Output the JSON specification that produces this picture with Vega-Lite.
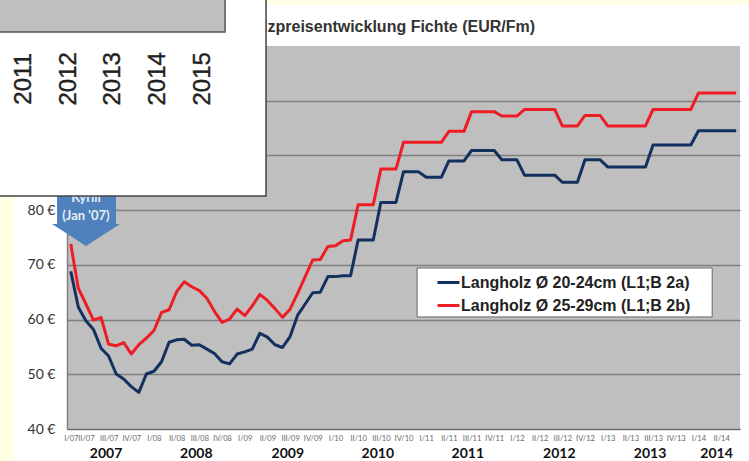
{"$schema":"https://vega.github.io/schema/vega-lite/v6.json","width":673,"height":383,"autosize":"none","padding":{"left":67,"top":46,"right":9,"bottom":32},"background":"#ffffff","view":{"fill":"#bfbfbf","stroke":null},
"datasets":{"prices":[
{"t":0,"a":68.8,"b":73.8},{"t":1,"a":62.25,"b":65.7},{"t":2,"a":59.8,"b":62.85},{"t":3,"a":58.2,"b":59.9},{"t":4,"a":54.75,"b":60.4},{"t":5,"a":53.35,"b":55.5},{"t":6,"a":50.05,"b":55.2},{"t":7,"a":49.15,"b":55.8},{"t":8,"a":47.75,"b":53.7},{"t":9,"a":46.7,"b":55.4},
{"t":10,"a":50.05,"b":56.6},{"t":11,"a":50.55,"b":58},{"t":12,"a":52.3,"b":61.3},{"t":13,"a":55.85,"b":61.8},{"t":14,"a":56.3,"b":65.1},{"t":15,"a":56.4,"b":66.9},{"t":16,"a":55.3,"b":66},{"t":17,"a":55.4,"b":65.3},{"t":18,"a":54.6,"b":63.9},{"t":19,"a":53.8,"b":61.5},
{"t":20,"a":52.3,"b":59.5},{"t":21,"a":51.9,"b":60.1},{"t":22,"a":53.7,"b":61.9},{"t":23,"a":54.1,"b":60.7},{"t":24,"a":54.6,"b":62.5},{"t":25,"a":57.5,"b":64.6},{"t":26,"a":56.8,"b":63.5},{"t":27,"a":55.4,"b":62},{"t":28,"a":54.9,"b":60.4},{"t":29,"a":56.9,"b":61.9},
{"t":30,"a":60.8,"b":64.8},{"t":31,"a":62.85,"b":67.85},{"t":32,"a":64.9,"b":70.9},{"t":33,"a":65,"b":71},{"t":34,"a":67.85,"b":73.35},{"t":35,"a":67.85,"b":73.5},{"t":36,"a":68,"b":74.4},{"t":37,"a":68,"b":74.55},{"t":38,"a":74.55,"b":81},{"t":39,"a":74.55,"b":81},
{"t":40,"a":74.55,"b":81},{"t":41,"a":81.4,"b":87.5},{"t":42,"a":81.4,"b":87.5},{"t":43,"a":81.4,"b":87.5},{"t":44,"a":87,"b":92.4},{"t":45,"a":87,"b":92.4},{"t":46,"a":87,"b":92.4},{"t":47,"a":86,"b":92.4},{"t":48,"a":86,"b":92.4},{"t":49,"a":86,"b":92.4},
{"t":50,"a":89,"b":94.4},{"t":51,"a":89,"b":94.4},{"t":52,"a":89,"b":94.4},{"t":53,"a":90.9,"b":98},{"t":54,"a":90.9,"b":98},{"t":55,"a":90.9,"b":98},{"t":56,"a":90.9,"b":98},{"t":57,"a":89.2,"b":97.2},{"t":58,"a":89.2,"b":97.2},{"t":59,"a":89.2,"b":97.2},
{"t":60,"a":86.4,"b":98.4},{"t":61,"a":86.4,"b":98.4},{"t":62,"a":86.4,"b":98.4},{"t":63,"a":86.4,"b":98.4},{"t":64,"a":86.4,"b":98.4},{"t":65,"a":85.1,"b":95.4},{"t":66,"a":85.1,"b":95.4},{"t":67,"a":85.1,"b":95.4},{"t":68,"a":89.2,"b":97.3},{"t":69,"a":89.2,"b":97.3},
{"t":70,"a":89.2,"b":97.3},{"t":71,"a":87.9,"b":95.4},{"t":72,"a":87.9,"b":95.4},{"t":73,"a":87.9,"b":95.4},{"t":74,"a":87.9,"b":95.4},{"t":75,"a":87.9,"b":95.4},{"t":76,"a":87.9,"b":95.4},{"t":77,"a":91.9,"b":98.4},{"t":78,"a":91.9,"b":98.4},{"t":79,"a":91.9,"b":98.4},
{"t":80,"a":91.9,"b":98.4},{"t":81,"a":91.9,"b":98.4},{"t":82,"a":91.9,"b":98.4},{"t":83,"a":94.5,"b":101.4},{"t":84,"a":94.5,"b":101.4},{"t":85,"a":94.5,"b":101.4},{"t":86,"a":94.5,"b":101.4},{"t":87,"a":94.5,"b":101.4},{"t":88,"a":94.5,"b":101.4}
],
"months":[{"t":-0.5},{"t":0.5},{"t":1.5},{"t":2.5},{"t":3.5},{"t":4.5},{"t":5.5},{"t":6.5},{"t":7.5},{"t":8.5},{"t":9.5},{"t":10.5},{"t":11.5},{"t":12.5},{"t":13.5},{"t":14.5},{"t":15.5},{"t":16.5},{"t":17.5},{"t":18.5},{"t":19.5},{"t":20.5},{"t":21.5},{"t":22.5},{"t":23.5},{"t":24.5},{"t":25.5},{"t":26.5},{"t":27.5},{"t":28.5},{"t":29.5},{"t":30.5},{"t":31.5},{"t":32.5},{"t":33.5},{"t":34.5},{"t":35.5},{"t":36.5},{"t":37.5},{"t":38.5},{"t":39.5},{"t":40.5},{"t":41.5},{"t":42.5},{"t":43.5},{"t":44.5},{"t":45.5},{"t":46.5},{"t":47.5},{"t":48.5},{"t":49.5},{"t":50.5},{"t":51.5},{"t":52.5},{"t":53.5},{"t":54.5},{"t":55.5},{"t":56.5},{"t":57.5},{"t":58.5},{"t":59.5},{"t":60.5},{"t":61.5},{"t":62.5},{"t":63.5},{"t":64.5},{"t":65.5},{"t":66.5},{"t":67.5},{"t":68.5},{"t":69.5},{"t":70.5},{"t":71.5},{"t":72.5},{"t":73.5},{"t":74.5},{"t":75.5},{"t":76.5},{"t":77.5},{"t":78.5},{"t":79.5},{"t":80.5},{"t":81.5},{"t":82.5},{"t":83.5},{"t":84.5},{"t":85.5},{"t":86.5},{"t":87.5},{"t":88.5}]
},
"encoding":{
"x":{"field":"t","type":"quantitative","title":null,"scale":{"domain":[-0.5,88.5],"nice":false,"zero":false},
"axis":{"values":[0,2,5,8,11,14,17,20,23,26,29,32,35,38,41,44,47,50,53,56,59,62,65,68,71,74,77,80,83,86],"grid":false,"ticks":false,"domainColor":"#666666","domainWidth":1,"labelFont":"Lato","labelFontSize":7.5,"labelColor":"#666666","labelPadding":5,"labelOverlap":false,"labelFlush":false,"labelAngle":0,
"labelExpr":"['I/07','II/07','III/07','IV/07','I/08','II/08','III/08','IV/08','I/09','II/09','III/09','IV/09','I/10','II/10','III/10','IV/10','I/11','II/11','III/11','IV/11','I/12','II/12','III/12','IV/12','I/13','II/13','III/13','IV/13','I/14','II/14'][floor((datum.value+1)/3)]"}},
"y":{"field":"v","type":"quantitative","title":null,"scale":{"domain":[40,110],"nice":false,"zero":false},
"axis":{"values":[40,50,60,70,80,90,100],"grid":true,"gridColor":"#7f7f7f","gridWidth":1.5,"ticks":false,"domainColor":"#808080","domainWidth":1.5,"labelFont":"Lato","labelFontSize":14,"labelColor":"#333333","labelPadding":12,"labelExpr":"datum.value+' €'"}}
},
"layer":[
{"data":{"values":[{"t":-10,"t2":-7.51,"v":30,"v2":120},{"t":-10,"t2":90,"v":117.5,"v2":120}]},"mark":{"type":"rect","color":"#ffffe6","clip":false},"encoding":{"x2":{"field":"t2"},"y2":{"field":"v2"}}},
{"data":{"values":[{"t":61.4,"v":113.4,"label":"Holzpreisentwicklung Fichte (EUR/Fm)"}]},"mark":{"type":"text","align":"right","baseline":"middle","font":"Liberation Sans","fontWeight":"bold","fontSize":16,"color":"#333333"},"encoding":{"text":{"field":"label"}}},
{"data":{"name":"months"},"transform":[{"filter":"datum.t>=0"}],"mark":{"type":"rule","color":"#555555","strokeWidth":1},"encoding":{"y":{"datum":40},"y2":{"datum":39.5}}},
{"data":{"values":[{"t":10.5},{"t":22.5},{"t":34.5},{"t":46.5},{"t":58.5},{"t":70.5},{"t":82.5}]},"mark":{"type":"rule","color":"#333333","strokeWidth":1.5},"encoding":{"y":{"datum":40.6},"y2":{"datum":39.1}}},
{"data":{"values":[{"t":4.66,"v":35.45,"label":"2007"},{"t":16.6,"v":35.45,"label":"2008"},{"t":28.7,"v":35.45,"label":"2009"},{"t":40.6,"v":35.45,"label":"2010"},{"t":52.5,"v":35.45,"label":"2011"},{"t":64.6,"v":35.45,"label":"2012"},{"t":76.6,"v":35.45,"label":"2013"},{"t":85.4,"v":35.45,"label":"2014"}]},"mark":{"type":"text","align":"center","baseline":"middle","font":"Lato","fontWeight":"bold","fontSize":14,"color":"#111111"},"encoding":{"text":{"field":"label"}}},
{"data":{"name":"prices"},"transform":[{"fold":["a","b"],"as":["series","v"]}],"mark":{"type":"line","strokeWidth":3,"strokeJoin":"round","clip":false},"encoding":{"color":{"field":"series","type":"nominal","scale":{"domain":["a","b"],"range":["#14305f","#ee1c25"]},"legend":{"title":null,"orient":"none","legendX":369,"legendY":224,"padding":0,"symbolType":"stroke","symbolSize":484,"symbolStrokeWidth":3,"labelFont":"Liberation Sans","labelFontWeight":"bold","labelFontSize":16,"labelColor":"#222222","labelOffset":0,"labelLimit":300,"rowPadding":2,"labelExpr":"datum.value=='a'?'Langholz Ø 20-24cm (L1;B 2a)':'Langholz Ø 25-29cm (L1;B 2b)'"}}}},
{"data":{"values":[{"t":45.8,"t2":84.82,"v":69.43,"v2":60.48}]},"mark":{"type":"rect","color":"#ffffff","stroke":"#666666","strokeWidth":1},"encoding":{"x2":{"field":"t2"},"y2":{"field":"v2"}}},
{"data":{"values":[{"t":-1.82,"t2":5.98,"v":77.48,"v2":86}]},"mark":{"type":"rect","color":"#4f81bd"},"encoding":{"x2":{"field":"t2"},"y2":{"field":"v2"}}},
{"data":{"values":[{"t":-2.48,"v":77.48,"v2":77.48},{"t":2.01,"v":77.48,"v2":73.45},{"t":6.51,"v":77.48,"v2":77.48}]},"mark":{"type":"area","color":"#4f81bd"},"encoding":{"y2":{"field":"v2"}}},
{"data":{"values":[{"t":2.01,"v":82.2,"label":"Kyrill"},{"t":2.01,"v":79,"label":"(Jan '07)"}]},"mark":{"type":"text","align":"center","baseline":"middle","font":"Lato","fontWeight":"bold","fontSize":13,"color":"#e8eef7"},"encoding":{"text":{"field":"label"}}},
{"data":{"values":[{"t":-12,"t2":25.82,"v":82.6,"v2":125}]},"mark":{"type":"rect","color":"#ffffff","stroke":"#444444","strokeWidth":1.5},"encoding":{"x2":{"field":"t2"},"y2":{"field":"v2"}}},
{"data":{"values":[{"t":-12,"t2":20.4,"v":112.58,"v2":125}]},"mark":{"type":"rect","color":"#bfbfbf","stroke":"#555555","strokeWidth":1.5},"encoding":{"x2":{"field":"t2"},"y2":{"field":"v2"}}},
{"data":{"values":[{"t":-9.23},{"t":-3.32},{"t":2.61},{"t":8.56},{"t":14.45},{"t":20.4}]},"mark":{"type":"rule","color":"#444444","strokeWidth":1.2},"encoding":{"y":{"datum":112.58},"y2":{"datum":110.93}}},
{"data":{"values":[{"t":-6.2,"v":104,"label":"2011"},{"t":-0.3,"v":104,"label":"2012"},{"t":5.6,"v":104,"label":"2013"},{"t":11.55,"v":104,"label":"2014"},{"t":17.5,"v":104,"label":"2015"}]},"mark":{"type":"text","angle":270,"align":"center","baseline":"middle","font":"Liberation Sans","fontSize":24,"color":"#222222","stroke":"#222222","strokeWidth":0.4},"encoding":{"text":{"field":"label"}}}
]}
